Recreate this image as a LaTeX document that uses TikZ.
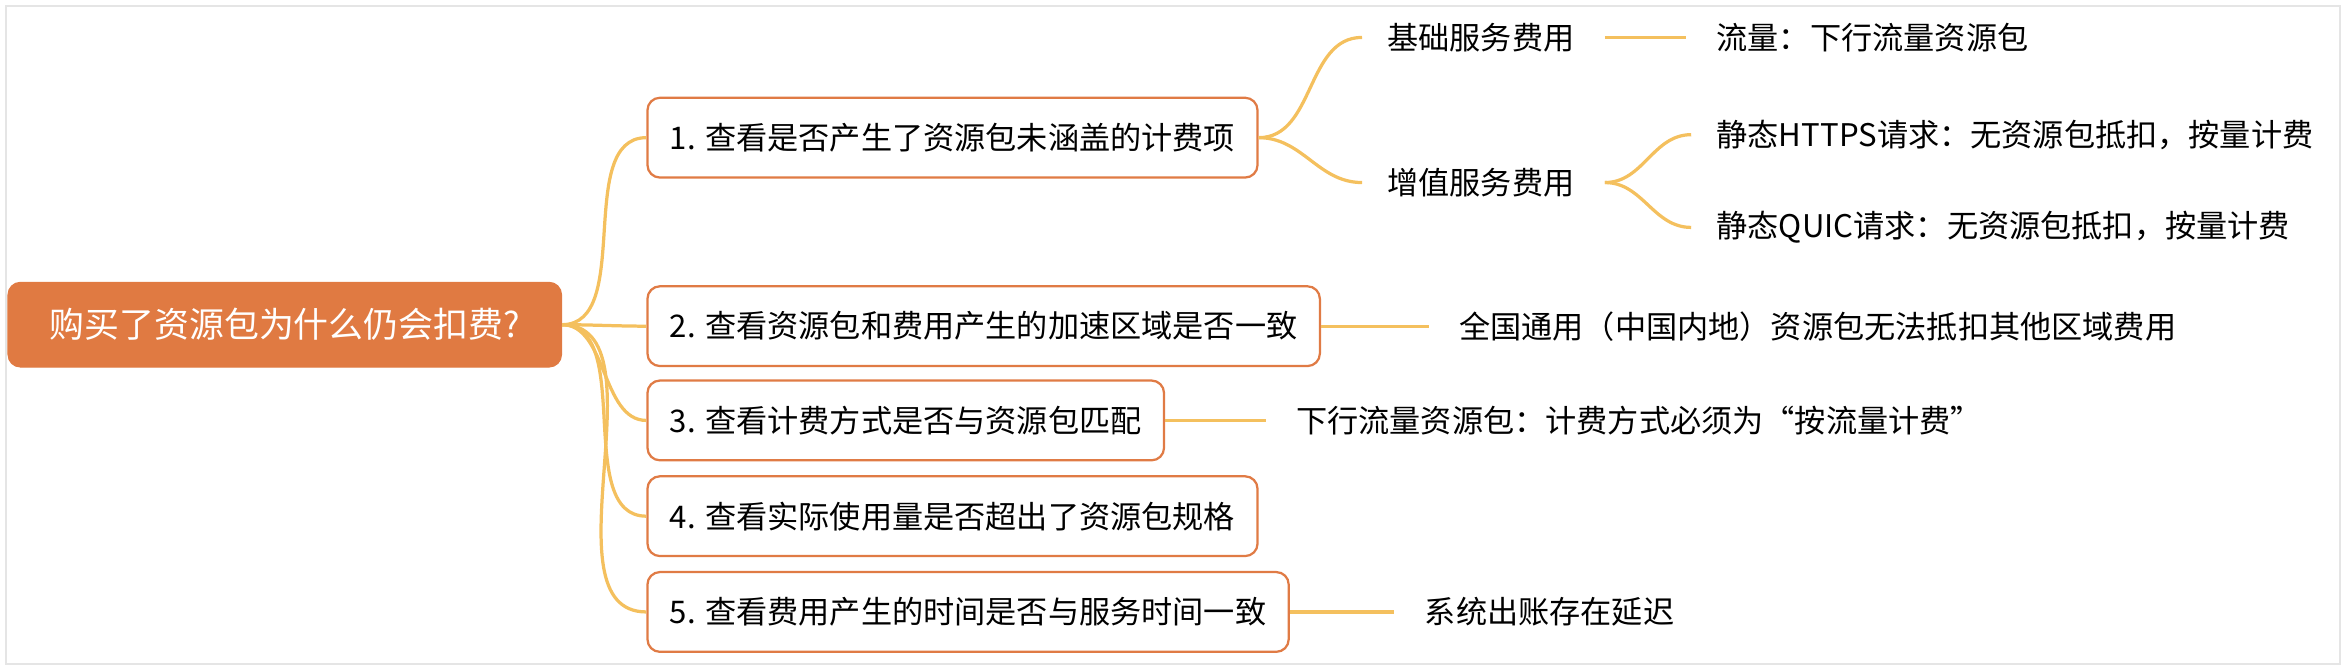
\documentclass[tikz,border=0pt]{standalone}
\usepackage{fontspec}
\setmainfont{Noto Sans CJK SC}
\definecolor{rootfill}{HTML}{E07A42}
\definecolor{boxline}{HTML}{E07B45}
\definecolor{branch}{HTML}{F4C05E}
\tikzstyle{mm-root}=[fill=rootfill,draw=rootfill,rounded corners=5pt,text=white,font=\fontsize{14}{16}\selectfont,anchor=west,minimum height=34pt,minimum width=222pt,inner xsep=12pt]
\tikzstyle{mm-step}=[draw=boxline,line width=0.9pt,fill=white,rounded corners=5pt,font=\fontsize{12.5}{15}\selectfont,anchor=west,minimum height=32pt,inner xsep=9pt]
\tikzstyle{mm-leaf}=[font=\fontsize{12.5}{15}\selectfont,anchor=west,inner xsep=0pt]
\tikzstyle{mm-link}=[draw=branch,line width=1.3pt]
\begin{document}
\begin{tikzpicture}[x=0.6pt,y=-0.6pt]
  \useasboundingbox (0,0) rectangle (1568,448);
  \draw[black!10,line width=0.8pt] (4,4) rectangle (1564,444);
  \node[mm-root] (root) at (5,217) {购买了资源包为什么仍会扣费?};
  \node[mm-step] (s1) at (432,92)  {1. 查看是否产生了资源包未涵盖的计费项};
  \node[mm-step] (s2) at (432,218) {2. 查看资源包和费用产生的加速区域是否一致};
  \node[mm-step] (s3) at (432,281) {3. 查看计费方式是否与资源包匹配};
  \node[mm-step] (s4) at (432,345) {4. 查看实际使用量是否超出了资源包规格};
  \node[mm-step] (s5) at (432,409) {5. 查看费用产生的时间是否与服务时间一致};
  \node[mm-leaf] (basic) at (927,25)  {基础服务费用};
  \node[mm-leaf] (added) at (927,122) {增值服务费用};
  \node[mm-leaf] (flow)  at (1147,25) {流量：下行流量资源包};
  \node[mm-leaf] (https) at (1147,90) {静态HTTPS请求：无资源包抵扣，按量计费};
  \node[mm-leaf] (quic)  at (1147,152) {静态QUIC请求：无资源包抵扣，按量计费};
  \node[mm-leaf] (area)  at (975,218) {全国通用（中国内地）资源包无法抵扣其他区域费用};
  \node[mm-leaf] (mode)  at (866,281) {下行流量资源包：计费方式必须为“按流量计费”};
  \node[mm-leaf] (delay) at (952,409) {系统出账存在延迟};
  \foreach \s in {s1,s2,s3,s4,s5}
    \draw[mm-link] (root.east) to[out=0,in=180,looseness=0.9] (\s.west);
  \draw[mm-link] (s1.east) to[out=0,in=180] ([xshift=-10pt]basic.west);
  \draw[mm-link] (s1.east) to[out=0,in=180] ([xshift=-10pt]added.west);
  \draw[mm-link] ([xshift=12pt]added.east) to[out=0,in=180] ([xshift=-10pt]https.west);
  \draw[mm-link] ([xshift=12pt]added.east) to[out=0,in=180] ([xshift=-10pt]quic.west);
  \draw[mm-link] ([xshift=12pt]basic.east) -- ([xshift=-12pt]flow.west);
  \draw[mm-link] (s2.east) -- ([xshift=-12pt]area.west);
  \draw[mm-link] (s3.east) -- ([xshift=-12pt]mode.west);
  \draw[mm-link] (s5.east) -- ([xshift=-12pt]delay.west);
\end{tikzpicture}
\end{document}
